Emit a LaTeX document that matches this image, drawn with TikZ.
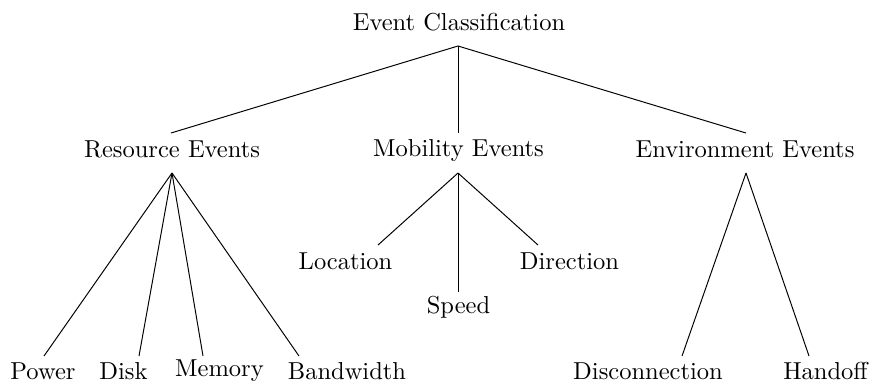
\documentclass[tikz,border=0pt]{standalone}
\begin{document}
\begin{tikzpicture}[x=0.408pt,y=-0.408pt,
  lbl/.style={anchor=base,inner sep=0pt,font=\normalsize},
  edge/.style={draw=black,line width=0.4pt}]
\useasboundingbox (0,0) rectangle (871,381);
% labels
\node[lbl] (root) at (459,30) {Event Classification};
\node[lbl] (res) at (172,157) {Resource Events};
\node[lbl] (mob) at (458.5,156) {Mobility Events};
\node[lbl] (env) at (745,157) {Environment Events};
\node[lbl] (loc) at (345.5,269) {Location};
\node[lbl] (spd) at (458.5,313) {Speed};
\node[lbl] (dir) at (569.5,269) {Direction};
\node[lbl] (pow) at (43,379) {Power};
\node[lbl] (disk) at (123.5,379) {Disk};
\node[lbl] (mem) at (219.5,376) {Memory};
\node[lbl] (bw) at (347,379) {Bandwidth};
\node[lbl] (dis) at (648,379) {Disconnection};
\node[lbl] (hand) at (825.5,379) {Handoff};
% connector points
\coordinate (rootB) at (458,46);
\coordinate (resT) at (171,133);
\coordinate (mobT) at (458,133);
\coordinate (envT) at (746,133);
\coordinate (resB) at (172,173);
\coordinate (mobB) at (458,173);
\coordinate (envB) at (746,173);
\coordinate (locT) at (378,245);
\coordinate (spdT) at (458,292);
\coordinate (dirT) at (538,245);
\coordinate (powT) at (44,356);
\coordinate (diskT) at (139,356);
\coordinate (memT) at (203,356);
\coordinate (bwT) at (299,356);
\coordinate (disT) at (682,356);
\coordinate (handT) at (809,356);
% connectors
\draw[edge] (rootB) -- (resT);
\draw[edge] (rootB) -- (mobT);
\draw[edge] (rootB) -- (envT);
\draw[edge] (resB) -- (powT);
\draw[edge] (resB) -- (diskT);
\draw[edge] (resB) -- (memT);
\draw[edge] (resB) -- (bwT);
\draw[edge] (mobB) -- (locT);
\draw[edge] (mobB) -- (spdT);
\draw[edge] (mobB) -- (dirT);
\draw[edge] (envB) -- (disT);
\draw[edge] (envB) -- (handT);
\end{tikzpicture}
\end{document}
